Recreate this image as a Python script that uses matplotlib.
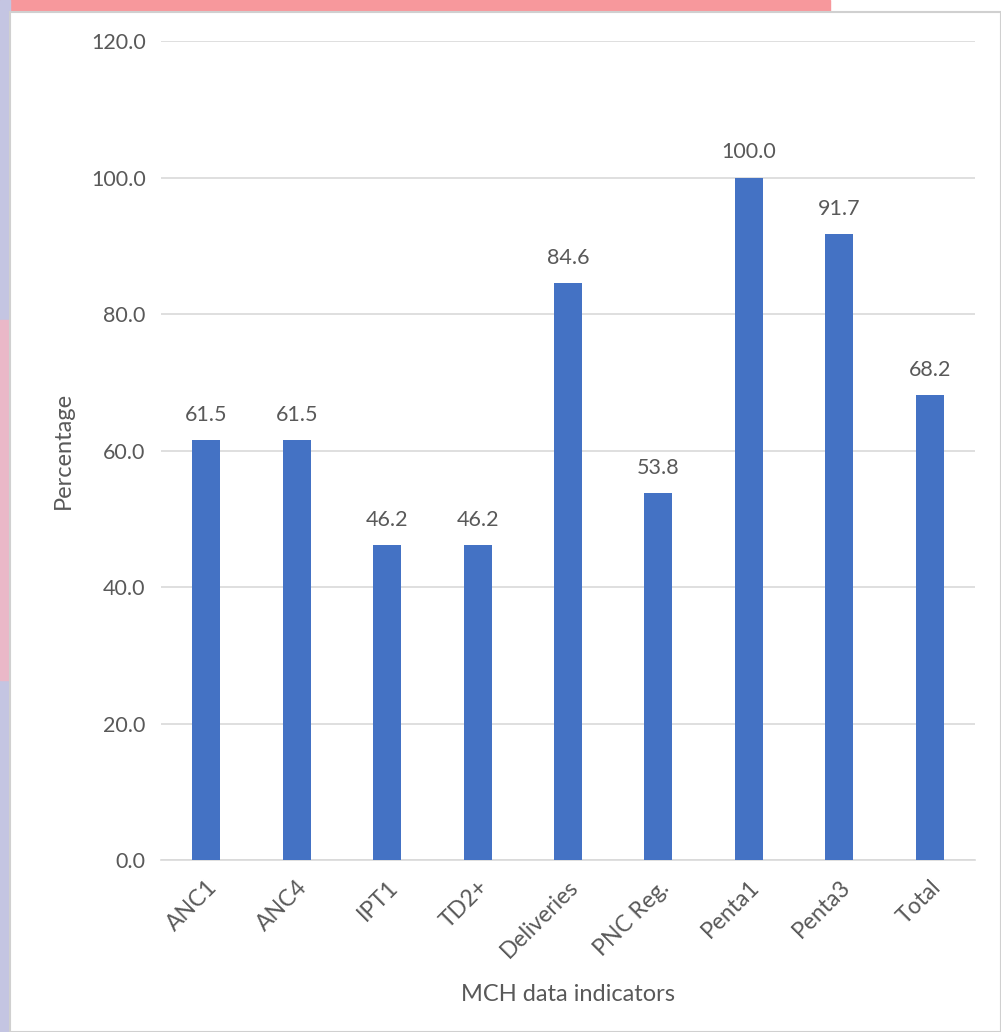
import matplotlib.pyplot as plt
from matplotlib.patches import Rectangle

categories = ['ANC1', 'ANC4', 'IPT1', 'TD2+', 'Deliveries', 'PNC Reg.', 'Penta1', 'Penta3', 'Total']
values = [61.5, 61.5, 46.2, 46.2, 84.6, 53.8, 100.0, 91.7, 68.2]
yticks = [0, 20, 40, 60, 80, 100, 120]

plt.rcParams['font.family'] = ['Lato', 'DejaVu Sans']
txt = '#595959'

fig = plt.figure(figsize=(10.01, 10.32), dpi=100)
W, H = 1001, 1032

# bits of the source page showing behind the chart
fig.patches.append(Rectangle((0, 1 - 14 / H), 830 / W, 14 / H, transform=fig.transFigure,
                             color='#f7989c', zorder=0))
fig.patches.append(Rectangle((0, 0), 10 / W, 1, transform=fig.transFigure,
                             color='#c4c5e2', zorder=0))
fig.patches.append(Rectangle((0, 1 - 680 / H), 10 / W, 360 / H, transform=fig.transFigure,
                             color='#eab8c8', zorder=0))
fig.patches.append(Rectangle((10 / W, 0), 1 - 10 / W, 1 - 12 / H, transform=fig.transFigure,
                             facecolor='white', edgecolor='#d0d0d0', lw=1.5, zorder=1))

ax = fig.add_axes([161 / W, 1 - 860 / H, 814 / W, 819 / H])
ax.set_zorder(2)
ax.patch.set_alpha(0)

x = range(len(categories))
ax.bar(x, values, width=0.31, color='#4472c4', zorder=3)
for xi, v in zip(x, values):
    ax.text(xi, v + 2.2, f'{v:.1f}', ha='center', va='bottom', fontsize=15.5, color=txt)

ax.set_xlim(-0.5, len(categories) - 0.5)
ax.set_ylim(0, 120)
ax.set_yticks(yticks)
ax.set_yticklabels([f'{t:.1f}' for t in yticks], fontsize=15.5, color=txt)
ax.set_xticks(list(x))
ax.set_xticklabels(categories, rotation=45, ha='right', rotation_mode='anchor',
                   fontsize=16.5, color=txt)
ax.tick_params(axis='both', length=0)
ax.tick_params(axis='y', pad=11)
ax.tick_params(axis='x', pad=12)
ax.grid(axis='y', color='#d9d9d9', lw=1.2, zorder=0)
for s in ['top', 'right', 'left']:
    ax.spines[s].set_visible(False)
ax.spines['bottom'].set_color('#d9d9d9')
ax.spines['bottom'].set_linewidth(1.2)

ax.set_ylabel('Percentage', fontsize=17, color=txt, labelpad=12)
ax.set_xlabel('MCH data indicators', fontsize=17, color=txt, labelpad=16)

fig.savefig('out.png', dpi=100)
